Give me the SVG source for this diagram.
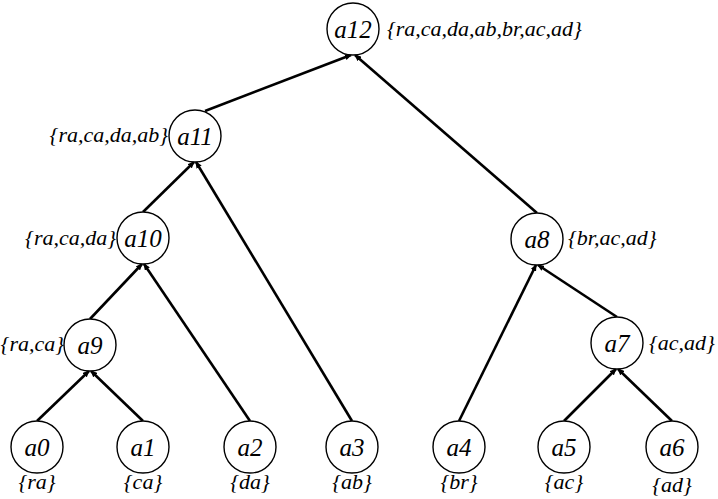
<svg xmlns="http://www.w3.org/2000/svg" width="718" height="499" viewBox="0 0 718 499">
<style>
.n circle{fill:#fff;stroke:#000;stroke-width:1.4}
.n text{font-family:"Liberation Serif","Times New Roman",serif;font-style:italic;font-size:25px;text-anchor:middle;fill:#000}
text.s{font-family:"Liberation Serif","Times New Roman",serif;font-style:italic;font-size:22px;fill:#000}
.e line{stroke:#000;stroke-width:2.6;marker-end:url(#ah)}
</style>
<defs>
<marker id="ah" markerUnits="userSpaceOnUse" markerWidth="7" markerHeight="6" refX="6" refY="3" orient="auto">
<path d="M0,0 L7,3 L0,6 Z" fill="#000"/>
</marker>
</defs>
<rect width="718" height="499" fill="#fff"/>
<g id="edges" class="e">
<line x1="205" y1="111" x2="351" y2="55"/>
<line x1="537" y1="213" x2="355" y2="55"/>
<line x1="143" y1="212" x2="194" y2="162"/>
<line x1="352" y1="421" x2="196" y2="162"/>
<line x1="90" y1="319" x2="142" y2="264"/>
<line x1="250" y1="421" x2="144" y2="264"/>
<line x1="37" y1="421" x2="89" y2="371"/>
<line x1="143" y1="421" x2="91" y2="371"/>
<line x1="459" y1="421" x2="536" y2="265"/>
<line x1="617" y1="317" x2="538" y2="265"/>
<line x1="564" y1="421" x2="616" y2="369"/>
<line x1="672" y1="421" x2="618" y2="369"/>
</g>
<g id="a12" class="n"><circle cx="353" cy="29" r="26"/><text x="353" y="38">a12</text></g>
<g id="a11" class="n"><circle cx="195" cy="136" r="26"/><text x="195" y="145">a11</text></g>
<g id="a10" class="n"><circle cx="143" cy="238" r="26"/><text x="143" y="247">a10</text></g>
<g id="a9" class="n"><circle cx="90" cy="345" r="26"/><text x="90" y="354">a9</text></g>
<g id="a8" class="n"><circle cx="537" cy="239" r="26"/><text x="537" y="248">a8</text></g>
<g id="a7" class="n"><circle cx="617" cy="343" r="26"/><text x="617" y="352">a7</text></g>
<g id="a0" class="n"><circle cx="37" cy="447" r="26"/><text x="37" y="456">a0</text></g>
<g id="a1" class="n"><circle cx="143" cy="447" r="26"/><text x="143" y="456">a1</text></g>
<g id="a2" class="n"><circle cx="250" cy="447" r="26"/><text x="250" y="456">a2</text></g>
<g id="a3" class="n"><circle cx="352" cy="447" r="26"/><text x="352" y="456">a3</text></g>
<g id="a4" class="n"><circle cx="459" cy="447" r="26"/><text x="459" y="456">a4</text></g>
<g id="a5" class="n"><circle cx="564" cy="447" r="26"/><text x="564" y="456">a5</text></g>
<g id="a6" class="n"><circle cx="672" cy="447" r="26"/><text x="672" y="456">a6</text></g>
<g id="labels">
<text class="s" x="387" y="36">{ra,ca,da,ab,br,ac,ad}</text>
<text class="s" x="168" y="142" text-anchor="end">{ra,ca,da,ab}</text>
<text class="s" x="116" y="245" text-anchor="end">{ra,ca,da}</text>
<text class="s" x="64" y="351" text-anchor="end">{ra,ca}</text>
<text class="s" x="568" y="245">{br,ac,ad}</text>
<text class="s" x="649" y="350">{ac,ad}</text>
<text class="s" x="37" y="489" text-anchor="middle">{ra}</text>
<text class="s" x="143" y="489" text-anchor="middle">{ca}</text>
<text class="s" x="250" y="489" text-anchor="middle">{da}</text>
<text class="s" x="352" y="489" text-anchor="middle">{ab}</text>
<text class="s" x="459" y="489" text-anchor="middle">{br}</text>
<text class="s" x="564" y="489" text-anchor="middle">{ac}</text>
<text class="s" x="672" y="492" text-anchor="middle">{ad}</text>
</g>
</svg>
